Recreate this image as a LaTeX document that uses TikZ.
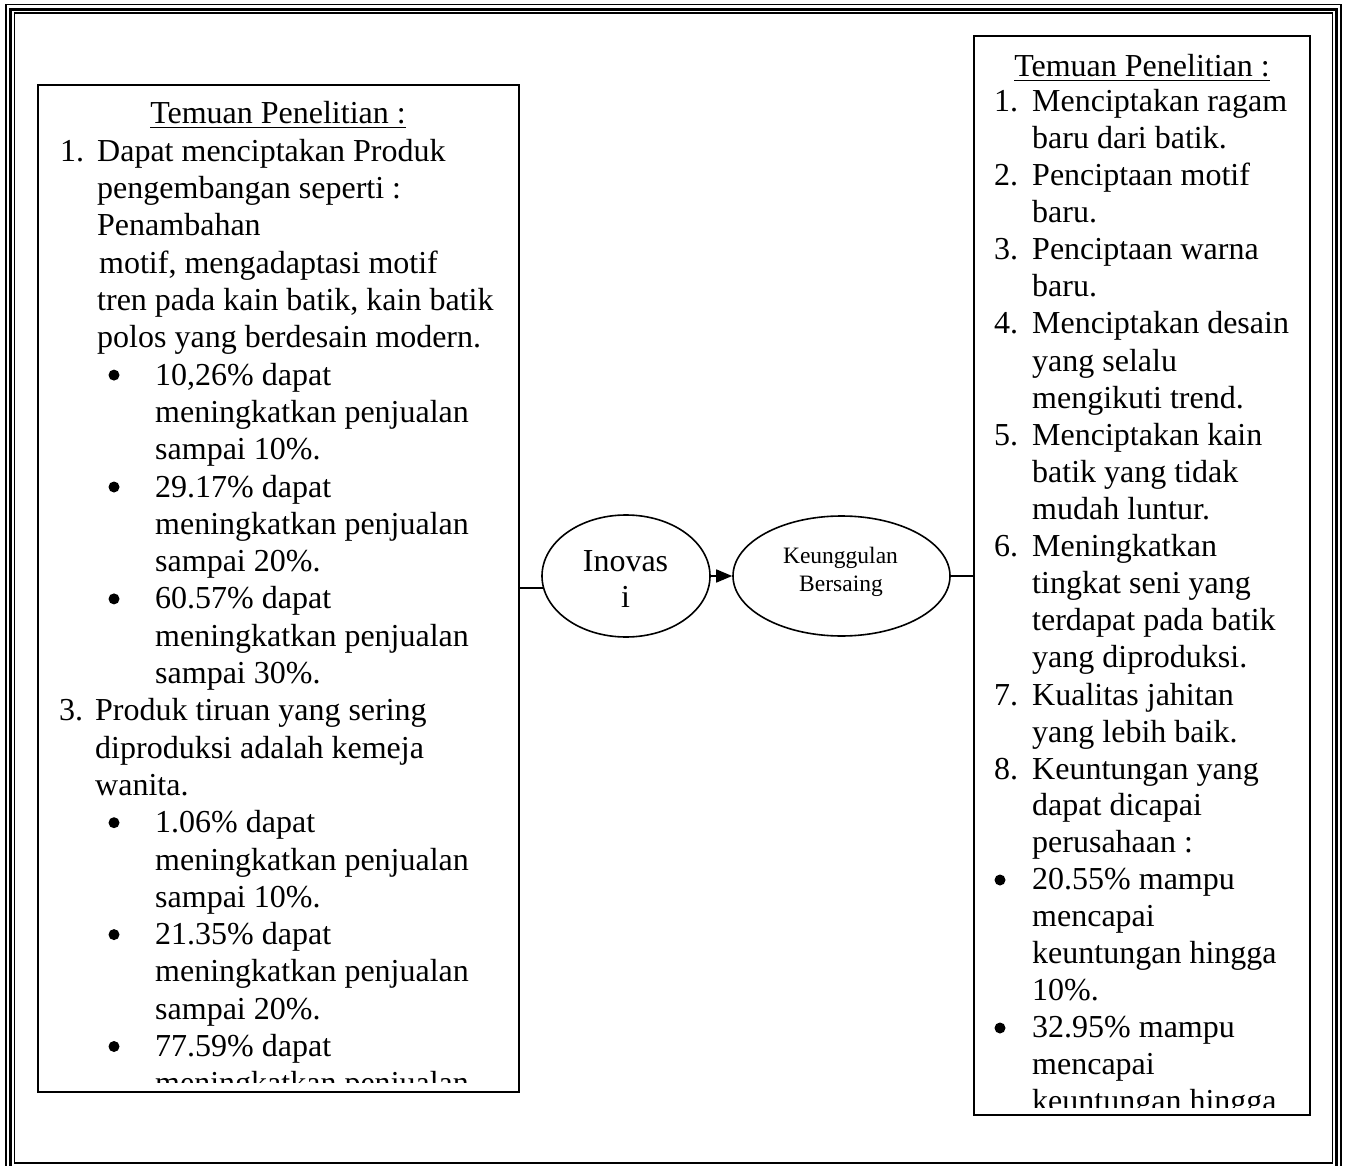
\documentclass[tikz,border=0pt]{standalone}
\usepackage{fontspec}
\setmainfont{Liberation Serif}
\usetikzlibrary{shapes.geometric,arrows.meta}
\newcommand\Lt[4]{\node[txt] (#1) at (#2,#3) {#4};}
\newcommand\Bu[3]{\node[bul] (#1) at (#2,#3) {};}
\begin{document}
\begin{tikzpicture}[x=1pt,y=-1pt,
  txt/.style={anchor=base west,inner sep=0pt,font=\fontsize{32}{37}\selectfont},
  ttl/.style={anchor=base,inner sep=0pt,font=\fontsize{32}{37}\selectfont},
  box/.style={draw,line width=1.6pt,inner sep=0pt},
  bul/.style={fill,circle,inner sep=0pt,minimum size=11pt},
  oval/.style={draw,ellipse,line width=1.6pt,inner sep=0pt},
  ovtxt/.style={anchor=base,inner sep=0pt},
  bordthin/.style={line width=1.2pt},
  bordthick/.style={line width=2.6pt},
  conn/.style={line width=1.6pt}
]
\useasboundingbox (0,0) rectangle (1347,1166);
% page border (thin-thick-thin)
\draw[bordthin] (6,4.7) rectangle (1341,1172);
\draw[bordthick] (10.5,9.5) rectangle (1336.5,1168);
\draw[bordthin] (14.5,13) rectangle (1332.5,1163);

% boxes
\node[box,anchor=north west,minimum width=481,minimum height=1007] (L) at (37,84) {};
\node[box,anchor=north west,minimum width=336,minimum height=1079] (R) at (973,35) {};

% left box text
\begin{scope}
\clip (37,84) rectangle (518,1082);
\node[ttl] (ltitle) at (278,124) {Temuan Penelitian :};
\draw[line width=1.3pt] ([yshift=-3.5pt]ltitle.base west) -- ([yshift=-3.5pt]ltitle.base east);
\Lt{ln1}{60}{161.3}{1.}
\Lt{la1}{97}{161.3}{Dapat menciptakan Produk}
\Lt{la2}{97}{198.6}{pengembangan seperti :}
\Lt{la3}{97}{235.9}{Penambahan}
\Lt{la4}{99}{273.2}{motif, mengadaptasi motif}
\Lt{la5}{97}{310.5}{tren pada kain batik, kain batik}
\Lt{la6}{97}{347.8}{polos yang berdesain modern.}
\Bu{lb1}{114}{375.1}
\Lt{la7}{155}{385.1}{10,26\% dapat}
\Lt{la8}{155}{422.4}{meningkatkan penjualan}
\Lt{la9}{155}{459.7}{sampai 10\%.}
\Bu{lb2}{114}{487.0}
\Lt{la10}{155}{497.0}{29.17\% dapat}
\Lt{la11}{155}{534.3}{meningkatkan penjualan}
\Lt{la12}{155}{571.6}{sampai 20\%.}
\Bu{lb3}{114}{598.9}
\Lt{la13}{155}{608.9}{60.57\% dapat}
\Lt{la14}{155}{646.2}{meningkatkan penjualan}
\Lt{la15}{155}{683.5}{sampai 30\%.}
\Lt{ln3}{59}{720.8}{3.}
\Lt{la16}{95}{720.8}{Produk tiruan yang sering}
\Lt{la17}{95}{758.1}{diproduksi adalah kemeja}
\Lt{la18}{95}{795.4}{wanita.}
\Bu{lb4}{114}{822.7}
\Lt{la19}{155}{832.7}{1.06\% dapat}
\Lt{la20}{155}{870.0}{meningkatkan penjualan}
\Lt{la21}{155}{907.3}{sampai 10\%.}
\Bu{lb5}{114}{934.6}
\Lt{la22}{155}{944.6}{21.35\% dapat}
\Lt{la23}{155}{981.9}{meningkatkan penjualan}
\Lt{la24}{155}{1019.2}{sampai 20\%.}
\Bu{lb6}{114}{1046.5}
\Lt{la25}{155}{1056.5}{77.59\% dapat}
\Lt{la26}{155}{1093.8}{meningkatkan penjualan}
\end{scope}

% right box text
\begin{scope}
\clip (973,35) rectangle (1309,1107);
\node[ttl] (rtitle) at (1142,77) {Temuan Penelitian :};
\draw[line width=1.3pt] ([yshift=-3.5pt]rtitle.base west) -- ([yshift=-3.5pt]rtitle.base east);
\Lt{rn1}{994}{112}{1.}
\Lt{ra0}{1032}{112}{Menciptakan ragam}
\Lt{ra1}{1032}{149}{baru dari batik.}
\Lt{rn2}{994}{186}{2.}
\Lt{ra2}{1032}{186}{Penciptaan motif}
\Lt{ra3}{1032}{223}{baru.}
\Lt{rn3}{994}{260}{3.}
\Lt{ra4}{1032}{260}{Penciptaan warna}
\Lt{ra5}{1032}{297}{baru.}
\Lt{rn4}{994}{334}{4.}
\Lt{ra6}{1032}{334}{Menciptakan desain}
\Lt{ra7}{1032}{371}{yang selalu}
\Lt{ra8}{1032}{408}{mengikuti trend.}
\Lt{rn5}{994}{445}{5.}
\Lt{ra9}{1032}{445}{Menciptakan kain}
\Lt{ra10}{1032}{482}{batik yang tidak}
\Lt{ra11}{1032}{519}{mudah luntur.}
\Lt{rn6}{994}{556}{6.}
\Lt{ra12}{1032}{556}{Meningkatkan}
\Lt{ra13}{1032}{593}{tingkat seni yang}
\Lt{ra14}{1032}{630}{terdapat pada batik}
\Lt{ra15}{1032}{667}{yang diproduksi.}
\Lt{rn7}{994}{705}{7.}
\Lt{ra16}{1032}{705}{Kualitas jahitan}
\Lt{ra17}{1032}{742}{yang lebih baik.}
\Lt{rn8}{994}{779}{8.}
\Lt{ra18}{1032}{779}{Keuntungan yang}
\Lt{ra19}{1032}{815}{dapat dicapai}
\Lt{ra20}{1032}{852}{perusahaan :}
\Bu{rb1}{1000}{880}
\Lt{ra21}{1032}{889}{20.55\% mampu}
\Lt{ra22}{1032}{926}{mencapai}
\Lt{ra23}{1032}{963}{keuntungan hingga}
\Lt{ra24}{1032}{1000}{10\%.}
\Bu{rb2}{1000}{1028}
\Lt{ra25}{1032}{1037}{32.95\% mampu}
\Lt{ra26}{1032}{1074}{mencapai}
\Lt{ra27}{1032}{1111}{keuntungan hingga}
\end{scope}

% ellipses
\node[oval,minimum width=168,minimum height=122] (ino) at (626,576) {};
\node[ovtxt,font=\fontsize{32}{36}\selectfont] (ino1) at (625.5,571) {Inovas};
\node[ovtxt,font=\fontsize{32}{36}\selectfont] (ino2) at (625.5,607) {i};
\node[oval,minimum width=217,minimum height=120] (keu) at (841.5,576) {};
\node[ovtxt,font=\fontsize{23.5}{28}\selectfont] (keu1) at (840.5,563) {Keunggulan};
\node[ovtxt,font=\fontsize{23.5}{28}\selectfont] (keu2) at (841,591) {Bersaing};

% connectors
\draw[conn] (L.east |- ino.188) -- (ino.188);
\draw[conn,-{Triangle[length=16pt,width=13pt]}] (ino.east) -- (keu.west);
\draw[conn] (keu.east) -- (R.west |- keu.east);
\end{tikzpicture}
\end{document}
